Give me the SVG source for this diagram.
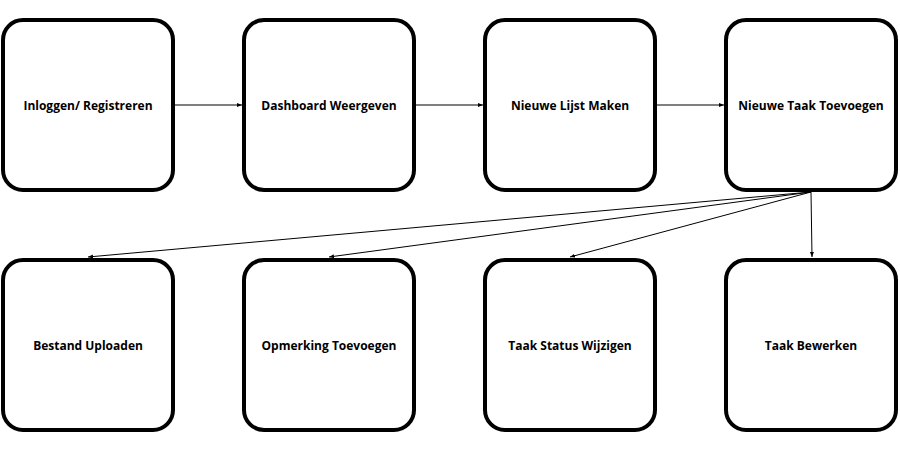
<svg xmlns="http://www.w3.org/2000/svg" width="900" height="450" viewBox="0 0 900 450">
<style>
.box{fill:#fff;stroke:#000;stroke-width:4}
.lbl{font-family:"Open Sans",sans-serif;font-weight:bold;font-size:12px;fill:#000;text-anchor:middle;dominant-baseline:central}
.edge{stroke:#000;stroke-width:1;fill:none;marker-end:url(#ah)}
</style>
<defs>
<marker id="ah" viewBox="0 0 10 10" refX="10" refY="5" markerWidth="5" markerHeight="5" markerUnits="userSpaceOnUse" orient="auto">
<path d="M0,1 L10,5 L0,9 z" fill="#000"/>
</marker>
</defs>
<rect width="900" height="450" fill="#fff"/>
<g id="connectors">
<line class="edge" x1="175" y1="105" x2="242" y2="105"/>
<line class="edge" x1="416" y1="105" x2="483" y2="105"/>
<line class="edge" x1="657" y1="105" x2="724" y2="105"/>
<line class="edge" x1="811" y1="192" x2="88" y2="257"/>
<line class="edge" x1="811" y1="192" x2="329" y2="257"/>
<line class="edge" x1="811" y1="192" x2="570" y2="257"/>
<line class="edge" x1="811" y1="192" x2="812" y2="257"/>
</g>
<g id="n1"><rect class="box" x="3" y="20" width="170" height="170" rx="20"/><text class="lbl" x="88" y="105">Inloggen/ Registreren</text></g>
<g id="n2"><rect class="box" x="244" y="20" width="170" height="170" rx="20"/><text class="lbl" x="329" y="105">Dashboard Weergeven</text></g>
<g id="n3"><rect class="box" x="485" y="20" width="170" height="170" rx="20"/><text class="lbl" x="570" y="105">Nieuwe Lijst Maken</text></g>
<g id="n4"><rect class="box" x="726" y="20" width="170" height="170" rx="20"/><text class="lbl" x="811" y="105">Nieuwe Taak Toevoegen</text></g>
<g id="n5"><rect class="box" x="3" y="260" width="170" height="170" rx="20"/><text class="lbl" x="88" y="345">Bestand Uploaden</text></g>
<g id="n6"><rect class="box" x="244" y="260" width="170" height="170" rx="20"/><text class="lbl" x="329" y="345">Opmerking Toevoegen</text></g>
<g id="n7"><rect class="box" x="485" y="260" width="170" height="170" rx="20"/><text class="lbl" x="570" y="345">Taak Status Wijzigen</text></g>
<g id="n8"><rect class="box" x="726" y="260" width="170" height="170" rx="20"/><text class="lbl" x="811" y="345">Taak Bewerken</text></g>
</svg>
